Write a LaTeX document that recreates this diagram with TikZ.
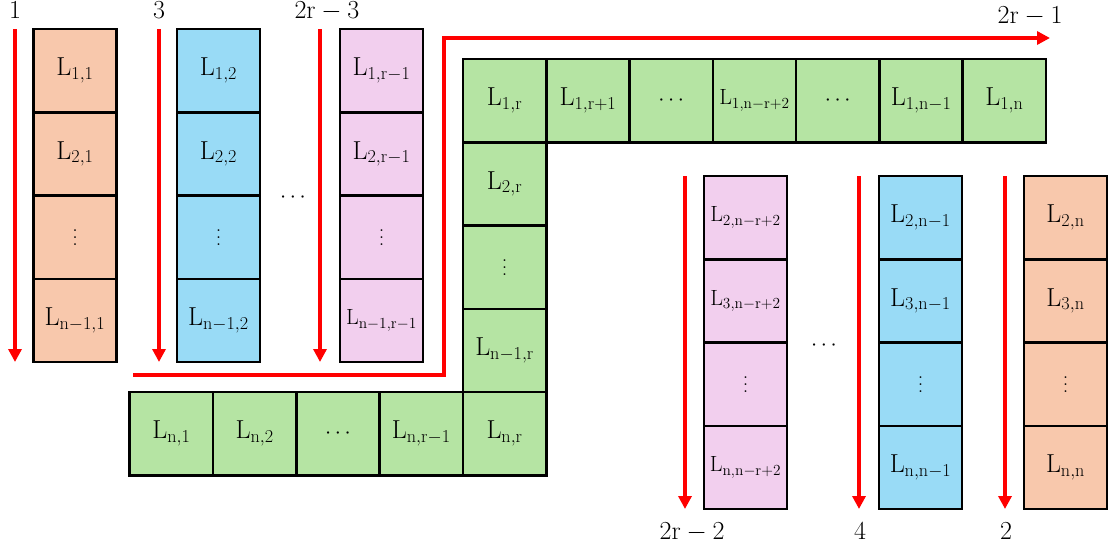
\RequirePackage{fix-cm}
\documentclass[tikz,border=0pt]{standalone}
\usetikzlibrary{arrows.meta}
\definecolor{cOr}{HTML}{F8C8AC}
\definecolor{cBl}{HTML}{99DBF6}
\definecolor{cPk}{HTML}{F2CFEE}
\definecolor{cGr}{HTML}{B5E4A3}
\definecolor{cRd}{HTML}{FF0000}
\newcommand\Lc[1]{$\mathrm{L}_{\mathrm{#1}}$}
\newcommand\vd{\vbox{\baselineskip7pt\lineskiplimit0pt\hbox{.}\hbox{.}\hbox{.}}}
\newcommand\hd{$\cdots$}
\begin{document}
\begin{tikzpicture}[x=1pt,y=-1pt,
 cell/.style={draw=black, line width=2.6pt, minimum width=83.3pt, minimum height=83.3pt, inner sep=0pt, font=\fontsize{26}{30}\selectfont},
 small/.style={font=\fontsize{22}{26}\selectfont},
 dt/.style={font=\fontsize{22}{26}\selectfont},
 ora/.style={cell, fill=cOr}, blu/.style={cell, fill=cBl},
 pnk/.style={cell, fill=cPk}, grn/.style={cell, fill=cGr},
 flow/.style={draw=cRd, line width=4.2pt, -{Triangle[length=13pt,width=13pt]}},
 num/.style={font=\fontsize{26}{30}\selectfont, anchor=base, inner sep=0pt},
 gap/.style={font=\fontsize{22}{26}\selectfont, inner sep=0pt}]
\useasboundingbox (0,0) rectangle (1108,549);
% left columns
\node[ora] (a1) at (75,70.6) {\Lc{1,1}};
\node[ora] (a2) at (75,153.9) {\Lc{2,1}};
\node[ora,dt] (a3) at (75,237.2) {\vd};
\node[ora] (a4) at (75,320.5) {\Lc{n-1,1}};
\node[blu] (b1) at (218.5,70.6) {\Lc{1,2}};
\node[blu] (b2) at (218.5,153.9) {\Lc{2,2}};
\node[blu,dt] (b3) at (218.5,237.2) {\vd};
\node[blu] (b4) at (218.5,320.5) {\Lc{n-1,2}};
\node[pnk] (c1) at (381.5,70.6) {\Lc{1,r-1}};
\node[pnk] (c2) at (381.5,153.9) {\Lc{2,r-1}};
\node[pnk,dt] (c3) at (381.5,237.2) {\vd};
\node[pnk,small] (c4) at (381.5,320.5) {\Lc{n-1,r-1}};
\node[gap] (gl) at (293,198) {\hd};
% green top row
\node[grn] (g1) at (504.6,100.6) {\Lc{1,r}};
\node[grn] (g2) at (587.9,100.6) {\Lc{1,r+1}};
\node[grn,dt] (g3) at (671.2,100.6) {\hd};
\node[grn,small] (g4) at (754.5,100.6) {\Lc{1,n-r+2}};
\node[grn,dt] (g5) at (837.8,100.6) {\hd};
\node[grn] (g6) at (921.1,100.6) {\Lc{1,n-1}};
\node[grn] (g7) at (1004.4,100.6) {\Lc{1,n}};
% green column
\node[grn] (h2) at (504.6,183.9) {\Lc{2,r}};
\node[grn,dt] (h3) at (504.6,267.2) {\vd};
\node[grn] (h4) at (504.6,350.5) {\Lc{n-1,r}};
% green bottom row
\node[grn] (k1) at (171.4,433.8) {\Lc{n,1}};
\node[grn] (k2) at (254.7,433.8) {\Lc{n,2}};
\node[grn,dt] (k3) at (338.0,433.8) {\hd};
\node[grn] (k4) at (421.3,433.8) {\Lc{n,r-1}};
\node[grn] (k5) at (504.6,433.8) {\Lc{n,r}};
% right columns
\node[pnk,small] (p1) at (745.5,217.6) {\Lc{2,n-r+2}};
\node[pnk,small] (p2) at (745.5,300.9) {\Lc{3,n-r+2}};
\node[pnk,dt] (p3) at (745.5,384.2) {\vd};
\node[pnk,small] (p4) at (745.5,467.5) {\Lc{n,n-r+2}};
\node[blu] (q1) at (920.5,217.6) {\Lc{2,n-1}};
\node[blu] (q2) at (920.5,300.9) {\Lc{3,n-1}};
\node[blu,dt] (q3) at (920.5,384.2) {\vd};
\node[blu] (q4) at (920.5,467.5) {\Lc{n,n-1}};
\node[ora] (o1) at (1065.5,217.6) {\Lc{2,n}};
\node[ora] (o2) at (1065.5,300.9) {\Lc{3,n}};
\node[ora,dt] (o3) at (1065.5,384.2) {\vd};
\node[ora] (o4) at (1065.5,467.5) {\Lc{n,n}};
\node[gap] (gr) at (824,346) {\hd};
% arrow end points
\coordinate (s1) at (15,29);  \coordinate (e1) at (15,362);
\coordinate (s2) at (159,29); \coordinate (e2) at (159,362);
\coordinate (s3) at (320,29); \coordinate (e3) at (320,362);
\coordinate (s4) at (685,176); \coordinate (e4) at (685,509);
\coordinate (s5) at (859,176); \coordinate (e5) at (859,509);
\coordinate (s6) at (1005,176); \coordinate (e6) at (1005,509);
\coordinate (ls) at (133,375); \coordinate (lc1) at (444,375);
\coordinate (lc2) at (444,38); \coordinate (le) at (1050,38);
\draw[flow] (s1) -- (e1);
\draw[flow] (s2) -- (e2);
\draw[flow] (s3) -- (e3);
\draw[flow] (s4) -- (e4);
\draw[flow] (s5) -- (e5);
\draw[flow] (s6) -- (e6);
\draw[flow, line join=miter] (ls) -- (lc1) -- (lc2) -- (le);
% labels
\node[num] (n1) at (15,18) {1};
\node[num] (n3) at (159,18) {3};
\node[num] (n2r3) at (327,18) {$\mathrm{2r-3}$};
\node[num] (n2r1) at (1030,23) {$\mathrm{2r-1}$};
\node[num] (n2r2) at (692,539) {$\mathrm{2r-2}$};
\node[num] (n4) at (860,539) {4};
\node[num] (n2) at (1006,539) {2};
\end{tikzpicture}
\end{document}
